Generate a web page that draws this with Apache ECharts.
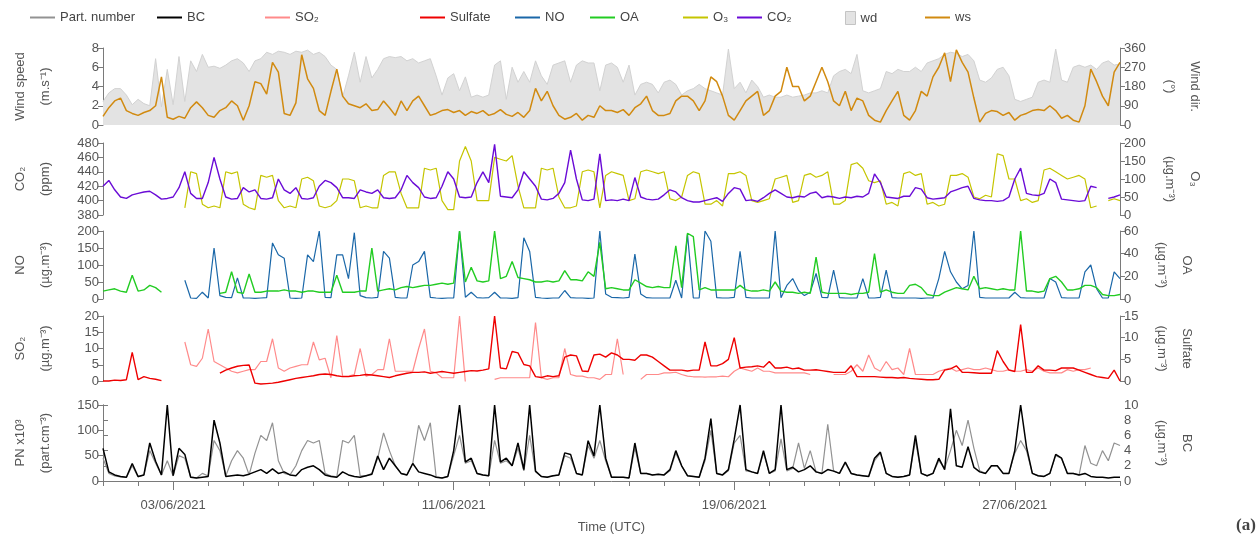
<!DOCTYPE html>
<html>
<head>
<meta charset="utf-8">
<script src="https://cdn.jsdelivr.net/npm/echarts@6/dist/echarts.min.js"></script>
<style>
html, body { margin: 0; background: #fff; }
#chart { width: 1260px; height: 538px; }
</style>
</head>
<body>
<div id="chart"></div>
<script>
// one row per day from 01/06/2021, a value every 4 h (00,04,08,12,16,20 UTC)
const ws = [
    [0.9, 1.8, 2.5, 2.8, 1.5, 1.2], [1.0, 1.3, 1.5, 2.0, 5.0, 0.8], [0.6, 0.9, 0.7, 1.8, 2.4, 1.8],
    [1.0, 0.8, 1.5, 1.8, 2.5, 2.0], [0.5, 2.0, 4.5, 4.3, 3.2, 6.5], [5.5, 1.2, 1.0, 2.3, 7.3, 4.8],
    [3.8, 1.5, 1.0, 3.5, 5.8, 3.0], [2.2, 2.0, 1.8, 2.2, 1.5, 1.6], [2.5, 1.8, 1.0, 2.5, 1.5, 2.5],
    [3.0, 2.0, 1.0, 1.2, 1.5, 1.6], [1.3, 1.5, 1.0, 1.4, 1.2, 1.5], [1.0, 1.2, 1.6, 1.1, 0.9, 1.3],
    [0.8, 1.5, 3.8, 2.5, 3.5, 2.0], [1.0, 0.6, 0.8, 1.2, 0.5, 1.0], [0.8, 2.0, 1.5, 1.5, 1.3, 1.6],
    [1.0, 1.8, 2.2, 3.0, 1.5, 1.0], [1.0, 1.2, 2.5, 3.0, 3.0, 2.5], [1.5, 2.5, 5.0, 4.5, 3.0, 1.0],
    [0.5, 1.5, 2.5, 3.0, 3.5, 1.0], [1.5, 3.0, 3.5, 6.0, 4.0, 4.0], [2.5, 3.0, 4.5, 6.0, 4.5, 2.5],
    [2.0, 3.5, 1.5, 2.8, 2.5, 1.0], [0.5, 0.3, 1.5, 2.5, 3.5, 1.0], [0.5, 1.5, 3.5, 3.0, 5.0, 6.0],
    [7.5, 4.5, 7.8, 6.5, 5.5, 2.8], [0.3, 1.2, 1.5, 1.4, 1.0, 1.3], [0.5, 1.0, 1.2, 1.5, 1.6, 1.5],
    [2.0, 1.5, 0.7, 1.0, 0.5, 0.3], [2.0, 5.8, 4.5, 3.0, 2.0, 5.5], [6.5]
]
const wd = [
    [110, 150, 170, 170, 140, 95], [120, 100, 90, 310, 85, 260], [95, 320, 110, 300, 250, 330],
    [270, 275, 265, 280, 300, 310], [290, 250, 300, 310, 340, 330], [345, 340, 330, 345, 340, 350],
    [330, 340, 320, 280, 260, 130], [230, 340, 200, 320, 220, 260], [310, 320, 315, 320, 300, 310],
    [290, 300, 310, 230, 140, 220], [240, 160, 225, 130, 140, 130], [140, 280, 300, 120, 270, 200],
    [250, 200, 300, 230, 190, 280], [290, 300, 200, 280, 300, 290], [290, 160, 280, 290, 270, 200],
    [280, 140, 190, 200, 190, 150], [200, 210, 190, 140, 160, 170], [190, 170, 160, 150, 140, 355],
    [170, 200, 150, 210, 180, 130], [140, 130, 130, 140, 130, 135], [140, 150, 150, 160, 150, 230],
    [250, 260, 240, 330, 160, 150], [160, 170, 250, 240, 260, 250], [250, 270, 250, 290, 300, 310],
    [330, 340, 335, 320, 330, 300], [210, 200, 220, 260, 270, 230], [120, 110, 120, 130, 200, 210],
    [200, 355, 210, 200, 270, 280], [270, 280, 260, 290, 300, 280], [285]
]
const co2 = [
    [420, 428, 415, 405, 403, 408], [410, 412, 413, 408, 402, 403], [405, 418, 440, 410, 403, 403],
    [425, 460, 430, 405, 402, 403], [418, 412, 415, 403, 402, 404], [430, 415, 410, 418, 403, 402],
    [404, 420, 428, 425, 418, 404], [404, 403, 415, 412, 410, 415], [404, 403, 404, 415, 435, 425],
    [418, 405, 403, 404, 420, 440], [430, 405, 404, 405, 425, 440], [425, 478, 406, 405, 404, 415],
    [440, 430, 420, 402, 401, 403], [410, 425, 470, 430, 401, 400], [402, 465, 400, 401, 400, 402],
    [400, 432, 405, 402, 401, 402], [408, 415, 412, 404, 400, 398], [398, 400, 402, 404, 399, 410],
    [418, 416, 400, 401, 399, 404], [410, 415, 410, 405, 404, 406], [405, 410, 412, 404, 406, 405],
    [403, 405, 404, 406, 405, 410], [437, 425, 405, 404, 403, 406], [406, 418, 416, 404, 402, 403],
    [404, 412, 415, 418, 420, 403], [401, 400, 400, 399, 400, 405], [430, 445, 410, 408, 407, 410],
    [430, 425, 402, 401, 400, 399], [400, 420, 418, null, 403, 405], [408]
]
const o3 = [
    [null, null, null, null, null, null], [null, null, null, null, null, null], [null, null, 20, 120, 115, 30],
    [20, 25, 20, 120, 115, 120], [30, 20, 15, 110, 105, 110], [40, 20, 25, 20, 100, 105],
    [95, 25, 20, 25, 40, 100], [100, 95, 20, 25, 20, 20], [110, 120, 120, 60, 20, 20],
    [20, 130, 125, 130, 40, 15], [15, 150, 190, 150, 40, 40], [40, 160, 155, 150, 165, 80],
    [20, 20, 20, 130, 125, 130], [50, 20, 20, 25, 120, 125], [120, 20, 110, 120, 115, 110],
    [40, 45, 120, 125, 120, 115], [120, 45, 40, 50, 110, 120], [115, 30, 30, 40, 25, 115],
    [115, 120, 110, 40, 35, 40], [45, 100, 105, 110, 35, 40], [110, 115, 105, 110, 120, 30],
    [30, 40, 140, 145, 130, 95], [90, 95, 30, 35, 25, 115], [120, 110, 115, 30, 35, 25],
    [30, 110, 110, 115, 105, 50], [45, 55, 50, 170, 165, 100], [100, 40, 45, 35, 40, 125],
    [130, 120, 110, 100, 105, 110], [100, 20, 25, null, 40, 45], [40]
]
const no = [
    [null, null, null, null, null, null], [null, null, null, null, null, null], [null, null, 55, 3, 2, 20],
    [3, 150, 10, 5, 4, 62], [3, 3, 2, 3, 4, 165], [130, 120, 3, 2, 3, 130],
    [110, 200, 5, 4, 130, 130], [60, 195, 10, 4, 3, 5], [140, 120, 5, 3, 3, 100],
    [110, 140, 5, 3, 2, 3], [3, 200, 5, 20, 4, 3], [4, 20, 3, 3, 2, 4],
    [180, 140, 5, 3, 2, 3], [3, 25, 4, 3, 3, 2], [3, 200, 15, 5, 4, 3],
    [5, 132, 15, 4, 3, 3], [3, 3, 55, 3, 190, 3], [3, 200, 170, 4, 3, 3],
    [5, 140, 5, 3, 3, 3], [3, 200, 4, 40, 60, 25], [10, 20, 75, 5, 4, 85],
    [4, 3, 3, 3, 60, 3], [3, 5, 85, 4, 3, 3], [3, 3, 2, 3, 3, 60],
    [140, 80, 50, 30, 40, 200], [5, 3, 3, 3, 3, 3], [20, 4, 3, 3, 3, 3],
    [60, 50, 4, 3, 3, 3], [80, 100, 30, 3, 3, 80], [60]
]
const oa = [
    [7, 8, 9, 7, 6, 21], [7, 8, 12, 10, 6, null], [null, null, null, null, null, null],
    [null, null, 5, 6, 24, 6], [5, 22, 6, 6, 7, 7], [7, 8, 7, 7, 6, 7],
    [7, 6, 6, 6, 21, 6], [6, 6, 7, 7, 45, 7], [8, 9, 8, 10, 11, 10],
    [11, 12, 12, 13, 14, 13], [14, 60, 15, 28, 16, 15], [16, 60, 18, 20, 33, 19],
    [18, 17, 15, 15, 16, 15], [16, 25, 17, 17, 16, 24], [20, 50, 9, 10, 9, 8],
    [8, 17, 14, 11, 10, 11], [10, 10, 47, 10, 58, 55], [8, 10, 8, 8, 8, 8],
    [8, 12, 8, 7, 7, 8], [7, 15, 7, 6, 6, 5], [6, 5, 37, 6, 5, 5],
    [5, 5, 4, 5, 5, 6], [40, 6, 8, 6, 5, 5], [12, 13, 10, 4, 3, 3],
    [6, 8, 10, 9, 8, 20], [9, 10, 9, 8, 9, 8], [8, 60, 7, 7, 6, 7],
    [18, 20, 15, 8, 8, 9], [12, 12, 10, 4, 3, 3], [4]
]
const so2 = [
    [null, null, null, null, null, null], [null, null, null, null, null, null], [null, null, 12, 5, 4.5, 7],
    [16, 6, 5, 4, 3, 2.5], [3, 3.5, 3.5, 6, 6, 13], [4, 3, 4, 4.5, 5, 5],
    [12, 6.5, 7, 1, 14, 1.5], [1.5, 2, 10, 1.5, 2, 3.5], [3.5, 13, 3, 3, 3, 3],
    [10, 16, 3, 2.5, 1, 1], [1, 20, -0.5, null, -1, null], [null, 0.5, 1, 1, 1, 1],
    [1, 1, 18, 1, 0.5, 1], [1, 10, 2, 1.5, 1.5, 1], [1, 0.5, 2, 2, 13, 2],
    [null, null, 0.5, 2, 2, 2], [2.5, 2.5, 2.7, 2, 1.5, 1.3], [1.3, 1.2, 1.3, 1.3, 1.5, 1.3],
    [3, 4, 3.5, 3, 4, 3], [3, 2.5, 2.5, 2.5, 2.5, 2.5], [2.5, 2, null, null, null, 2],
    [2, 2, 3, 5, 3, 8], [4, 3, 6, 3.5, 4, 2], [10, 2, 2, 2, 2, 3],
    [3.5, 4, 3, 3.5, 4, 3.5], [3.5, 4, 3.5, 3, 3, 3.5], [3, 3, 3.5, 3, 4, 3],
    [2.5, 2.5, 2.5, 3.5, 3, 3.5], [3.5, 4, null, null, null, null], [null]
]
const sulfate = [
    [0, 0, 0.2, 0.1, 0.3, 6.6], [0.3, 1.0, 0.6, 0.4, 0.1, null], [null, null, null, null, null, null],
    [null, null, 1.8, 2.5, 3.0, 3.4], [3.6, 3.7, -0.5, -0.7, -0.6, -0.5], [-0.3, 0, 0.3, 0.6, 0.8, 1.0],
    [1.2, 1.5, 1.6, 1.5, 1.2, 1.0], [1.0, 1.2, 1.3, 1.5, 1.4, 1.2], [1.0, 0.8, 1.2, 1.5, 1.8, 2.0],
    [2.0, 2.1, 1.8, 2.0, 2.2, 2.0], [1.8, 2.0, 2.2, 2.4, 2.3, 2.5], [2.8, 15, 3.0, 2.8, 6.8, 6.5],
    [3.8, 3.5, 1.0, 0.8, 1.2, 1.0], [1.2, 5.5, 6.0, 5.8, 2.3, 2.2], [6.0, 6.2, 5.5, 6.5, 6.0, 5.0],
    [5.0, 4.8, 6.0, 6.0, 5.5, 4.5], [3.5, 2.5, 2.5, 2.5, 2.3, 2.5], [2.5, 9.0, 3.5, 3.5, 4.0, 5.0],
    [10.0, 3.0, 3.2, 3.3, 3.5, 3.2], [4.5, 3.0, 3.0, 3.2, 2.8, 3.0], [2.5, 2.5, 2.6, 2.4, 2.2, 2.0],
    [2.0, 2.0, 3.5, 1.0, 1.0, 1.0], [1.0, 0.9, 0.8, 0.8, 0.7, 0.8], [0.6, 0.5, 0.4, 0.3, 0.3, 0.4],
    [2.5, 2.8, 3.5, 2.0, 2.0, 1.9], [1.8, 1.8, 1.8, 7.0, 4.5, 2.5], [2.2, 13, 2.0, 2.0, 3.5, 2.5],
    [2.5, 2.4, 3.0, 3.0, 3.0, 2.5], [2.0, 1.5, 1.0, 0.8, 0.6, 2.5], [0]
]
const pn = [
    [45, 15, 10, 8, 7, 30], [8, 12, 60, 35, 12, 40], [10, 50, 45, 8, 6, 15],
    [10, 80, 60, 10, 40, 60], [45, 12, 55, 90, 80, 115], [40, 15, 12, 30, 60, 80],
    [75, 80, 15, 10, 8, 80], [75, 90, 10, 10, 15, 45], [95, 60, 30, 15, 12, 35],
    [110, 80, 115, 8, 6, 9], [50, 90, 35, 40, 15, 12], [10, 80, 35, 40, 30, 65],
    [20, 90, 18, 9, 8, 10], [12, 50, 45, 15, 12, 70], [45, 80, 40, 8, 7, 7],
    [6, 65, 15, 15, 12, 13], [12, 20, 55, 30, 10, 9], [8, 40, 100, 15, 12, 20],
    [75, 90, 20, 18, 15, 55], [15, 20, 83, 20, 25, 75], [25, 60, 18, 15, 112, 20],
    [15, 35, 15, 12, 10, 9], [40, 55, 15, 9, 8, 9], [12, 80, 15, 10, 15, 40],
    [25, 60, 100, 70, 120, 65], [20, 15, 30, 30, 15, 15], [55, 80, 60, 15, 10, 9],
    [15, 50, 45, 15, 15, 12], [70, 35, 30, 60, 40, 75], [70]
]
const bc = [
    [4.3, 1.2, 0.8, 0.6, 0.5, 2.3], [0.6, 0.8, 5.0, 2.6, 0.8, 10.0], [0.7, 4.3, 3.5, 0.5, 0.4, 0.5],
    [0.6, 8.0, 5.0, 0.6, 0.7, 0.8], [0.7, 0.9, 1.2, 1.5, 1.0, 1.6], [1.0, 1.2, 0.8, 0.7, 1.5, 1.8],
    [2.0, 1.5, 0.8, 0.6, 0.5, 1.2], [0.8, 0.6, 0.5, 0.7, 0.9, 3.3], [1.5, 3.0, 2.0, 1.0, 0.8, 2.3],
    [1.2, 1.0, 0.8, 0.5, 0.4, 0.6], [4.0, 10.0, 2.5, 3.0, 1.0, 0.8], [0.7, 10.0, 2.5, 3.0, 2.0, 5.0],
    [1.5, 10.0, 1.3, 0.6, 0.5, 0.7], [0.8, 3.7, 3.5, 1.0, 0.8, 5.3], [3.3, 10.0, 3.0, 0.5, 0.5, 0.5],
    [0.4, 5.0, 1.0, 1.0, 0.8, 0.9], [0.8, 1.5, 4.0, 2.0, 0.7, 0.6], [0.5, 3.0, 8.2, 1.0, 0.8, 1.5],
    [5.5, 10.0, 1.5, 1.2, 1.0, 4.0], [1.0, 1.5, 10.0, 1.5, 1.8, 1.2], [1.5, 2.0, 1.2, 1.0, 1.5, 1.3],
    [1.0, 2.5, 1.0, 0.8, 0.7, 0.6], [3.0, 3.8, 1.0, 0.6, 0.5, 0.6], [0.8, 6.0, 1.0, 0.7, 1.0, 3.0],
    [1.5, 9.5, 2.0, 1.8, 4.5, 1.8], [1.2, 1.0, 2.0, 2.0, 1.0, 1.0], [4.0, 10.0, 4.5, 1.0, 0.7, 0.6],
    [1.0, 3.5, 3.0, 1.0, 1.0, 0.8], [1.0, 0.6, 0.5, 0.5, 0.4, 0.5], [0.5]
]

// x axis: days since 01/06/2021
const dateTicks = [2, 10, 18, 26]
const dateLabels = ['03/06/2021', '11/06/2021', '19/06/2021', '27/06/2021']

const toPoints = rows => rows.flat().map((v, i) => [i / 6, v])

const FONT = 'Liberation Sans, Arial, sans-serif'
const AXIS_COLOR = '#7a7a7a'
const TEXT_COLOR = '#555'

const grids = [
    { top: 48, height: 77 },
    { top: 143, height: 72 },
    { top: 231, height: 68 },
    { top: 316, height: 65 },
    { top: 405, height: 76 }
].map(g => ({ ...g, left: 103, right: 140 }))

const hiddenX = i => ({ type: 'value', gridIndex: i, min: 0, max: 29, show: false })

const xAxes = [
    hiddenX(0), hiddenX(1), hiddenX(2), hiddenX(3),
    {
        type: 'value',
        gridIndex: 4,
        position: 'bottom',
        min: 0,
        max: 29,
        interval: 1,
        axisLine: { lineStyle: { color: AXIS_COLOR } },
        axisTick: { length: 5, lineStyle: { color: AXIS_COLOR } },
        axisLabel: { show: false },
        splitLine: { show: false }
    },
    {
        type: 'value',
        gridIndex: 4,
        position: 'bottom',
        min: 0,
        max: 29,
        axisLine: { show: false },
        axisTick: { customValues: dateTicks, length: 9, lineStyle: { color: AXIS_COLOR } },
        axisLabel: {
            customValues: dateTicks,
            formatter: v => dateLabels[dateTicks.indexOf(v)],
            color: TEXT_COLOR,
            fontSize: 13,
            margin: 18
        },
        splitLine: { show: false },
        name: 'Time (UTC)',
        nameLocation: 'middle',
        nameGap: 40,
        nameTextStyle: { color: TEXT_COLOR, fontSize: 13 }
    }
]

const yAxis = (grid, side, min, max, interval, name) => ({
    type: 'value',
    gridIndex: grid,
    position: side,
    min,
    max,
    interval,
    axisLine: { show: true, lineStyle: { color: AXIS_COLOR } },
    axisTick: { show: true, length: 5, lineStyle: { color: AXIS_COLOR } },
    axisLabel: { color: TEXT_COLOR, fontSize: 13, margin: 4 },
    splitLine: { show: false },
    name,
    nameLocation: 'middle',
    nameRotate: side === 'left' ? 90 : -90,
    nameGap: side === 'left' ? 45 : 28,
    nameTextStyle: { color: TEXT_COLOR, fontSize: 13, lineHeight: 25 }
})

const yAxes = [
    yAxis(0, 'left', 0, 8, 2, 'Wind speed\n(m.s⁻¹)'),
    yAxis(0, 'right', 0, 360, 90, 'Wind dir.\n(°)'),
    yAxis(1, 'left', 380, 480, 20, 'CO₂\n(ppm)'),
    yAxis(1, 'right', 0, 200, 50, 'O₃\n(µg.m⁻³)'),
    yAxis(2, 'left', 0, 200, 50, 'NO\n(µg.m⁻³)'),
    yAxis(2, 'right', 0, 60, 20, 'OA\n(µg.m⁻³)'),
    yAxis(3, 'left', 0, 20, 5, 'SO₂\n(µg.m⁻³)'),
    yAxis(3, 'right', 0, 15, 5, 'Sulfate\n(µg.m⁻³)'),
    yAxis(4, 'left', 0, 150, 50, 'PN x10³\n(part.cm⁻³)'),
    yAxis(4, 'right', 0, 10, 2, 'BC\n(µg.m⁻³)')
]

const line = (name, rows, x, y, color, width) => ({
    name,
    type: 'line',
    xAxisIndex: x,
    yAxisIndex: y,
    data: toPoints(rows),
    symbol: 'none',
    itemStyle: { color },
    lineStyle: { color, width: width || 1 },
    connectNulls: false
})

const series = [
    {
        ...line('wd', wd, 0, 1, '#d2d2d2', 1),
        areaStyle: { color: '#e3e3e3', opacity: 1 }
    },
    line('ws', ws, 0, 0, '#d18a10', 1.5),
    line('O₃', o3, 1, 3, '#c5c500', 1.2),
    line('CO₂', co2, 1, 2, '#6a0bd6', 1.4),
    line('NO', no, 2, 4, '#1a67a8', 1.2),
    line('OA', oa, 2, 5, '#22cc22', 1.4),
    line('SO₂', so2, 3, 6, '#ff8a8a', 1.2),
    { ...line('Sulfate', sulfate, 3, 7, '#ee0000', 1.4), clip: false },
    line('Part. number', pn, 4, 8, '#929292', 1.2),
    line('BC', bc, 4, 9, '#000000', 1.5)
]

const legendSpots = [
    ['Part. number', 25], ['BC', 152], ['SO₂', 260], ['Sulfate', 415], ['NO', 510],
    ['OA', 585], ['O₃', 678], ['CO₂', 732], ['wd', 840], ['ws', 920]
]
const legends = legendSpots.map(([name, left]) => {
    const box = name === 'wd'
    const item = { left, top: 6, data: [name], icon: 'rect', selectedMode: false,
        itemWidth: box ? 10 : 25, itemHeight: box ? 13 : 2,
        textStyle: { color: '#444', fontSize: 13 } }
    if (box) item.itemStyle = { color: '#e3e3e3', borderColor: '#c4c4c4', borderWidth: 1 }
    return item
})

const chart = echarts.init(document.getElementById('chart'))
chart.setOption({
    animation: false,
    backgroundColor: '#fff',
    textStyle: { fontFamily: FONT },
    legend: legends,
    grid: grids,
    xAxis: xAxes,
    yAxis: yAxes,
    series,
    graphic: [{
        type: 'text',
        left: 1236,
        top: 517,
        style: { text: '(a)', font: 'bold 17px "Liberation Serif", serif', fill: '#444' }
    }]
})
</script>
</body>
</html>
